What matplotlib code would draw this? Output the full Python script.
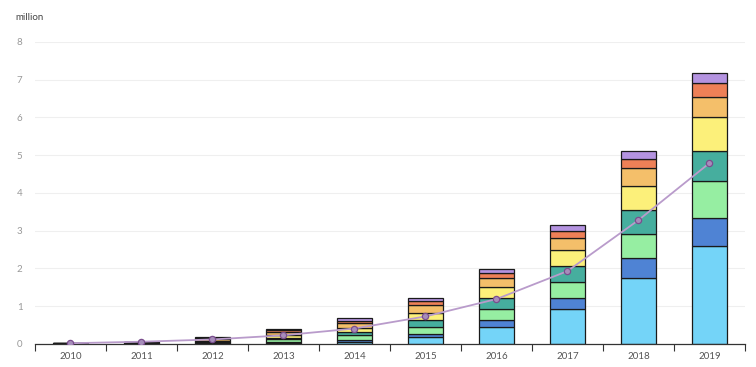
import numpy as np
import matplotlib.pyplot as plt

# 数据（单位：百万）
years = ['2010', '2011', '2012', '2013', '2014', '2015', '2016', '2017', '2018', '2019']
seg_light_blue = [0.004, 0.005, 0.01, 0.03, 0.06, 0.19, 0.45, 0.93, 1.74, 2.60]
seg_blue = [0.003, 0.005, 0.01, 0.03, 0.05, 0.08, 0.18, 0.28, 0.55, 0.74]
seg_green = [0.004, 0.01, 0.02, 0.06, 0.12, 0.19, 0.30, 0.42, 0.62, 0.98]
seg_teal = [0.004, 0.01, 0.02, 0.05, 0.09, 0.18, 0.28, 0.44, 0.63, 0.79]
seg_yellow = [0.004, 0.01, 0.03, 0.07, 0.11, 0.19, 0.29, 0.41, 0.64, 0.89]
seg_orange = [0.004, 0.01, 0.04, 0.07, 0.12, 0.20, 0.26, 0.34, 0.47, 0.55]
seg_red = [0.004, 0.005, 0.03, 0.05, 0.07, 0.11, 0.13, 0.18, 0.26, 0.35]
seg_purple = [0.003, 0.005, 0.02, 0.03, 0.06, 0.09, 0.09, 0.15, 0.20, 0.27]
line_values = [0.02, 0.06, 0.12, 0.23, 0.41, 0.73, 1.19, 1.93, 3.28, 4.79]

segments = [seg_light_blue, seg_blue, seg_green, seg_teal,
            seg_yellow, seg_orange, seg_red, seg_purple]
colors = ['#74D4F8', '#4F83D4', '#96EEA2', '#46AE9E',
          '#FCF07A', '#F4BF6A', '#EE8057', '#B493E0']

plt.rcParams['font.family'] = ['Lato', 'DejaVu Sans']

fig = plt.figure(figsize=(7.56, 3.67), dpi=100)
ax = fig.add_axes([0.0463, 0.0627, 0.939, 0.823])

x = np.arange(len(years))
bottom = np.zeros(len(years))
for vals, c in zip(segments, colors):
    ax.bar(x, vals, width=0.5, bottom=bottom, color=c,
           edgecolor='#1a1a1a', linewidth=0.9, zorder=2)
    bottom += np.array(vals)

ax.plot(x, line_values, color='#B99BCB', linewidth=1.3, zorder=3,
        marker='o', markersize=4.5, markerfacecolor='#A68DBA',
        markeredgecolor='#7B4E8E', markeredgewidth=0.9)

ax.set_xlim(-0.5, len(years) - 0.5)
ax.set_ylim(0, 8)
ax.set_yticks(range(0, 9))
ax.yaxis.grid(True, color='#efefef', linewidth=0.8, zorder=0)
ax.set_axisbelow(True)

ax.set_xticks(x)
ax.set_xticklabels(years)
ax.set_xticks(np.arange(-0.5, len(years)), minor=True)
ax.tick_params(axis='x', which='major', length=0, pad=6, labelsize=7, labelcolor='#555555')
ax.tick_params(axis='x', which='minor', length=5, width=0.8, color='#333333')
ax.tick_params(axis='y', length=0, pad=9, labelsize=7, labelcolor='#999999')

for side in ['top', 'right', 'left']:
    ax.spines[side].set_visible(False)
ax.spines['bottom'].set_color('#333333')
ax.spines['bottom'].set_linewidth(0.9)

fig.text(15 / 756, 1 - 17 / 367, 'million', fontsize=7, color='#444444', va='center')

fig.savefig('out.png', dpi=100)
